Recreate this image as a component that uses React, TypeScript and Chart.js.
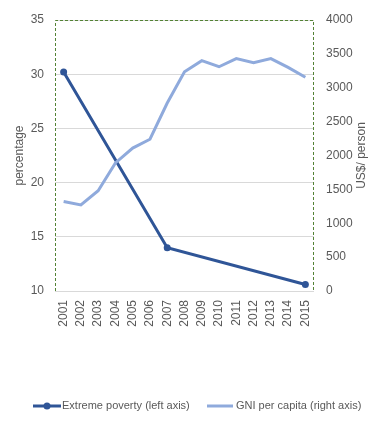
import React, { useEffect, useRef } from "react";
import { Chart, registerables } from "chart.js";

Chart.register(...registerables);

const years = ["2001","2002","2003","2004","2005","2006","2007","2008","2009","2010","2011","2012","2013","2014","2015"];
const povertyValues = [30.2, null, null, null, null, null, 14.0, null, null, null, null, null, null, null, 10.6];
const gniValues = [1320, 1270, 1480, 1890, 2110, 2240, 2775, 3235, 3400, 3310, 3430, 3370, 3430, 3300, 3155];
const leftTicks = [10, 15, 20, 25, 30, 35];
const rightTicks = [0, 500, 1000, 1500, 2000, 2500, 3000, 3500, 4000];

const povertyLabel = "Extreme poverty (left axis)";
const gniLabel = "GNI per capita (right axis)";
const leftTitle = "percentage";
const rightTitle = "US$/ person";

const FONT = "'Liberation Sans', Arial, sans-serif";
const TEXT = "#595959";
const DARK = "#2F5597";
const LIGHT = "#8FAADC";

const overlay = {
  id: "overlay",
  afterDatasetsDraw(chart: any) {
    const { ctx, chartArea } = chart;
    const { left, right, top, bottom } = chartArea;
    ctx.save();
    ctx.strokeStyle = "#548235";
    ctx.lineWidth = 1;
    ctx.setLineDash([3, 2]);
    ctx.beginPath();
    ctx.moveTo(left + 0.5, bottom);
    ctx.lineTo(left + 0.5, top + 0.5);
    ctx.lineTo(right - 0.5, top + 0.5);
    ctx.lineTo(right - 0.5, bottom);
    ctx.stroke();
    ctx.setLineDash([]);
    ctx.fillStyle = TEXT;
    ctx.font = `12px ${FONT}`;
    ctx.textAlign = "center";
    ctx.textBaseline = "middle";
    const midY = (top + bottom) / 2;
    ctx.save();
    ctx.translate(20, midY);
    ctx.rotate(-Math.PI / 2);
    ctx.fillText(leftTitle, 0, 0);
    ctx.restore();
    ctx.save();
    ctx.translate(362, midY);
    ctx.rotate(-Math.PI / 2);
    ctx.fillText(rightTitle, 0, 0);
    ctx.restore();
    const ly = 406;
    ctx.lineWidth = 3;
    ctx.strokeStyle = DARK;
    ctx.beginPath();
    ctx.moveTo(33, ly);
    ctx.lineTo(61, ly);
    ctx.stroke();
    ctx.fillStyle = DARK;
    ctx.beginPath();
    ctx.arc(47, ly, 3.5, 0, Math.PI * 2);
    ctx.fill();
    ctx.strokeStyle = LIGHT;
    ctx.beginPath();
    ctx.moveTo(207, ly);
    ctx.lineTo(233, ly);
    ctx.stroke();
    ctx.fillStyle = TEXT;
    ctx.font = `11px ${FONT}`;
    ctx.textAlign = "left";
    ctx.fillText(povertyLabel, 62, ly);
    ctx.fillText(gniLabel, 236, ly);
    ctx.restore();
  },
};

export default function App() {
  const ref = useRef<HTMLCanvasElement>(null);
  useEffect(() => {
    const chart = new Chart(ref.current!, {
      type: "line",
      data: {
        labels: years,
        datasets: [
          {
            label: gniLabel,
            data: gniValues,
            yAxisID: "y1",
            borderColor: LIGHT,
            backgroundColor: LIGHT,
            borderWidth: 3,
            pointRadius: 0,
            tension: 0,
            order: 0,
          },
          {
            label: povertyLabel,
            data: povertyValues,
            yAxisID: "y",
            borderColor: DARK,
            backgroundColor: DARK,
            borderWidth: 3,
            pointRadius: 3.5,
            pointBorderWidth: 0,
            spanGaps: true,
            tension: 0,
            order: 1,
          },
        ],
      },
      options: {
        responsive: false,
        animation: false,
        layout: { padding: { top: 20, bottom: 86, left: 0, right: 0 } },
        plugins: { legend: { display: false }, tooltip: { enabled: false } },
        scales: {
          x: {
            offset: true,
            grid: { display: false, drawTicks: false },
            border: { display: false },
            ticks: {
              color: TEXT,
              font: { family: FONT, size: 12 },
              maxRotation: 90,
              minRotation: 90,
              padding: 9,
              autoSkip: false,
            },
            afterFit: (s: any) => { s.height = 50; },
          },
          y: {
            position: "left",
            min: 10,
            max: 35,
            afterBuildTicks: (s: any) => { s.ticks = leftTicks.map((v) => ({ value: v })); },
            grid: { color: "#D9D9D9", drawTicks: false, lineWidth: 1 },
            border: { display: false },
            ticks: { color: TEXT, font: { family: FONT, size: 12 }, padding: 11, callback: (v: any) => String(v) },
            afterFit: (s: any) => { s.width = 55; },
          },
          y1: {
            position: "right",
            min: 0,
            max: 4000,
            afterBuildTicks: (s: any) => { s.ticks = rightTicks.map((v) => ({ value: v })); },
            grid: { display: false, drawTicks: false },
            border: { display: false },
            ticks: { color: TEXT, font: { family: FONT, size: 12 }, padding: 12, callback: (v: any) => String(v) },
            afterFit: (s: any) => { s.width = 76; },
          },
        },
      },
      plugins: [overlay],
    });
    return () => chart.destroy();
  }, []);
  return (
    <div style={{ position: "fixed", left: 0, top: 0, width: 390, height: 427, background: "#fff" }}>
      <canvas ref={ref} width={390} height={427} style={{ display: "block" }} />
    </div>
  );
}
